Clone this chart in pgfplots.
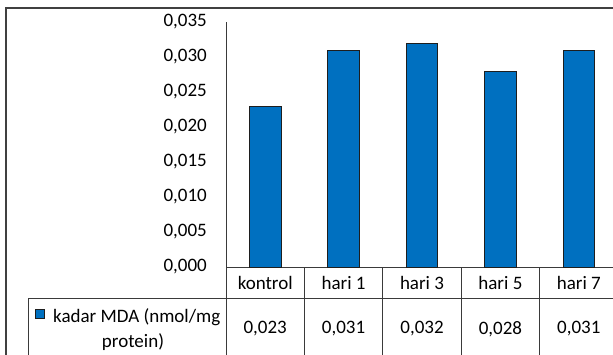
\documentclass[border=0pt]{standalone}
\usepackage{pgfplots}
\usepackage{pgfplotstable}
\pgfplotsset{compat=1.18}
\usepackage{fontspec}
\setmainfont{Carlito}

\definecolor{barblue}{HTML}{0070C0}
\definecolor{baredge}{HTML}{1E1E1E}
\definecolor{rule}{HTML}{3A3A3A}
\definecolor{framecol}{HTML}{404040}

% MDA level per group (nmol/mg protein)
\pgfplotstableread{
x  mda
0  0.023
1  0.031
2  0.032
3  0.028
4  0.031
}\mdatable

\begin{document}
\fontsize{19pt}{25pt}\selectfont
\begin{tikzpicture}[x=1pt,y=1pt]
\useasboundingbox (0,0) rectangle (613,354);
\clip (0,0) rectangle (613,354);
\fill[white] (0,0) rectangle (613,354);
% outer chart frame
\draw[framecol, line width=1.6pt] (6,-20) -- (6,346) -- (640,346);

\begin{axis}[
  at={(226pt,87pt)}, anchor=south west,
  scale only axis, width=392pt, height=245pt,
  xmin=-0.5, xmax=4.5, ymin=0, ymax=0.035,
  axis x line*=bottom, axis y line*=left,
  axis line style={-, draw=rule, line width=1pt},
  major tick length=0pt,
  ytick={0,0.005,0.01,0.015,0.02,0.025,0.03,0.035},
  scaled y ticks=false,
  yticklabel style={anchor=east, inner sep=0pt, xshift=-19pt, text=black,
    /pgf/number format/.cd, fixed, fixed zerofill, precision=3, use comma,
    assume math mode=true},
  xtick={0,1,2,3,4},
  xticklabels={kontrol, hari 1, hari 3, hari 5, hari 7},
  xticklabel style={anchor=center, inner sep=0pt, yshift=-16pt, text=black},
  clip=false,
]
\addplot[ybar, bar shift=0pt, bar width=31.5pt, fill=barblue, draw=baredge,
  line width=0.9pt] table[x=x, y=mda] {\mdatable};
% values row of the data table
\addplot[draw=none, mark=none, point meta=explicit,
  nodes near coords={\pgfmathprintnumber[fixed, fixed zerofill, precision=3,
    use comma, assume math mode=true]{\pgfplotspointmeta}},
  every node near coord/.append style={anchor=center, inner sep=0pt,
    yshift=-62pt, text=black}]
  table[x=x, y expr=0, meta=mda] {\mdatable};
\end{axis}

% data table grid
\draw[rule, line width=1pt] (28,56) -- (640,56);
\draw[rule, line width=1pt] (28,56) -- (28,-20);
\draw[rule, line width=1pt] (226,87) -- (226,-20);
\foreach \gx in {304.4,382.8,461.2,539.6} {
  \draw[rule, line width=1pt] (\gx,87) -- (\gx,-20);
}
% series key and name
\filldraw[fill=barblue, draw=baredge, line width=0.9pt] (35.5,35.5) rectangle (44.5,44.5);
\node[anchor=base west, inner sep=0pt, text=black] at (53,32) {kadar MDA (nmol/mg};
\node[anchor=base, inner sep=0pt, text=black] at (133,7) {protein)};
\end{tikzpicture}
\end{document}
